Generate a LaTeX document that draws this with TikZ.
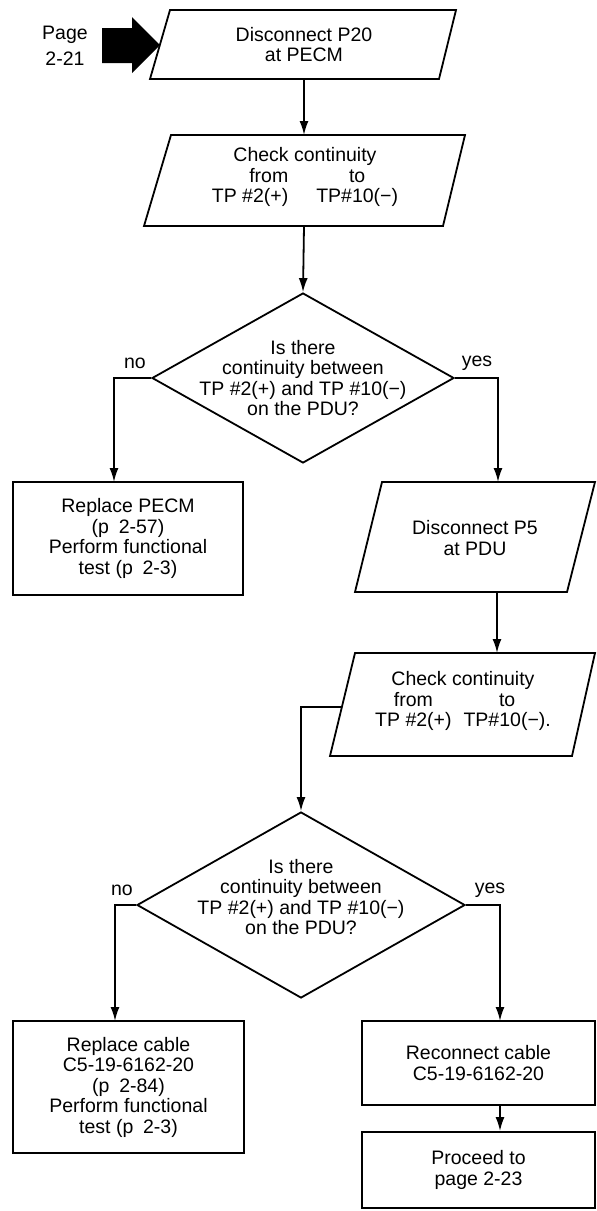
\documentclass[tikz,border=0pt]{standalone}
\usepackage{fontspec}
\setmainfont{Liberation Sans}
\usetikzlibrary{arrows.meta,shapes.geometric}
\begin{document}
\begin{tikzpicture}[x=1pt,y=-1pt,line width=1.8pt,
  txt/.style={font=\fontsize{19.5}{20.5}\selectfont,align=center,inner sep=0pt},
  box/.style={draw,rectangle,inner sep=0pt,font=\fontsize{19.5}{20.5}\selectfont,align=center},
  dia/.style={draw,diamond,inner sep=0pt},
  shp/.style={draw,line join=miter},
  arr/.style={-{Latex[length=14pt,width=9pt]}},
  lbl/.style={font=\fontsize{19.5}{20.5}\selectfont,inner sep=0pt}]
\useasboundingbox (0,0) rectangle (597,1211);

% entry arrow and page label
\node[font=\fontsize{19.5}{26}\selectfont,align=center,inner sep=0pt] (page) at (65,46) {Page\\2-21};
\fill (102,28) -- (132,28) -- (132,17) -- (160,45) -- (132,73) -- (132,63) -- (102,63) -- cycle;

% P1
\draw[shp] (170,10) -- (456,10) -- (439,79) -- (150,79) -- cycle;
\coordinate (p1s) at (304,79);
\node[txt] (t1) at (304,44.5) {Disconnect P20\\at PECM};

% P2
\draw[shp] (171,135) -- (465,135) -- (443,226) -- (144,226) -- cycle;
\coordinate (p2n) at (304,135);
\coordinate (p2s) at (304,226);
\node[txt] (t2) at (305,178) {\begin{tabular}{@{}r@{\hspace{28pt}}c@{}}\multicolumn{2}{c}{Check continuity}\\ from & to\\ TP \#2(+) & TP\#10(−)\end{tabular}};

% D1
\node[dia,minimum width=302pt,minimum height=170pt] (d1) at (303,378) {};
\node[txt] (t3) at (303,378) {Is there\\continuity between\\TP \#2(+) and TP \#10(−)\\on the PDU?};
\node[lbl] (no1) at (135,363) {no};
\node[lbl] (yes1) at (477,363) {yes};

% R1
\node[box,minimum width=230pt,minimum height=113pt] (r1) at (128,538.5) {Replace PECM\\(p\enspace 2-57)\\Perform functional\\test (p\enspace 2-3)};
\coordinate (r1in) at (114,482);

% P3
\draw[shp] (382,482) -- (595,482) -- (567,592) -- (355,592) -- cycle;
\coordinate (p3n) at (498,482);
\coordinate (p3s) at (497,592);
\node[txt] (t4) at (475,538) {Disconnect P5\\at PDU};

% P4
\draw[shp] (355,653) -- (595,653) -- (572,756) -- (330,756) -- cycle;
\coordinate (p4n) at (497,653);
\coordinate (p4w) at (341.9,707);
\node[txt] (t5) at (463,702) {\begin{tabular}{@{}c@{\hspace{12pt}}c@{}}\multicolumn{2}{c}{Check continuity}\\ from & to\\ TP \#2(+) & TP\#10(−).\end{tabular}};

% D2
\node[dia,minimum width=328pt,minimum height=186pt] (d2) at (301,905) {};
\node[txt] (t6) at (301,897) {Is there\\continuity between\\TP \#2(+) and TP \#10(−)\\on the PDU?};
\node[lbl] (no2) at (122,890) {no};
\node[lbl] (yes2) at (490,890) {yes};

% bottom boxes
\node[box,minimum width=231pt,minimum height=132pt] (r2) at (128.5,1087) {Replace cable\\C5-19-6162-20\\(p\enspace 2-84)\\Perform functional\\test (p\enspace 2-3)};
\coordinate (r2in) at (115,1021);
\node[box,minimum width=233pt,minimum height=84pt] (r3) at (478.5,1063) {Reconnect cable\\C5-19-6162-20};
\coordinate (r3in) at (500,1021);
\node[box,minimum width=233pt,minimum height=76pt] (r4) at (478.5,1170) {Proceed to\\page 2-23};

% connectors
\draw[arr] (p1s) -- (p2n);
\draw[arr] (p2s) -- (d1.north);
\draw[arr] (d1.west) -| (r1in);
\draw[arr] (d1.east) -| (p3n);
\draw[arr] (p3s) -- (p4n);
\draw[arr] (p4w) -| (d2.north);
\draw[arr] (d2.west) -| (r2in);
\draw[arr] (d2.east) -| (r3in);
\draw[arr] (r3.south -| r3in) -- (r4.north -| r3in);
\end{tikzpicture}
\end{document}
